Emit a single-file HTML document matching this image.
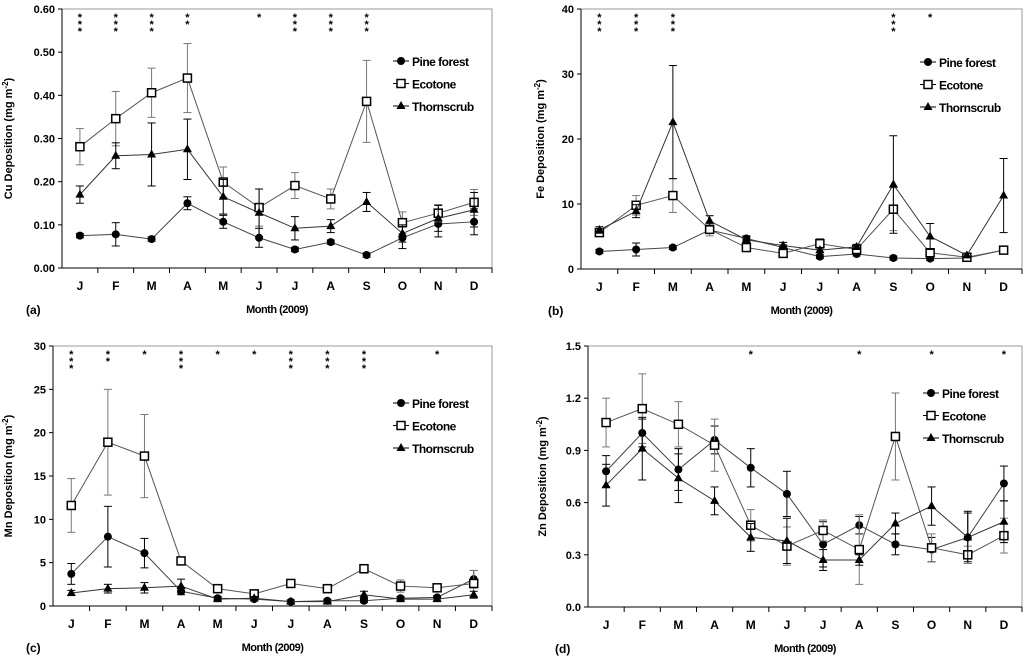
<!DOCTYPE html>
<html><head><meta charset="utf-8"><style>
body{margin:0;background:#fff;width:1027px;height:662px;overflow:hidden}
svg{display:block;font-family:"Liberation Sans",Arial,sans-serif;font-weight:bold}
</style></head><body>
<svg id="c" width="1027" height="662"></svg>
<script>
const months=["J","F","M","A","M","J","J","A","S","O","N","D"];
const cuPine=[.075,.078,.067,.150,.107,.070,.043,.060,.030,.070,.102,.107];
const cuPineErr=[.005,.027,.005,.015,.015,.022,.005,.005,.005,.025,.03,.03];
const cuEco=[.281,.346,.406,.440,.199,.140,.191,.160,.386,.105,.127,.152];
const cuEcoErr=[.042,.063,.057,.08,.035,.043,.03,.023,.095,.025,.02,.03];
const cuThorn=[.170,.260,.263,.275,.165,.128,.092,.097,.153,.080,.115,.135];
const cuThornErr=[.02,.03,.073,.07,.04,.055,.027,.015,.022,.02,.03,.04];
const cuStars=[3,3,3,2,0,1,3,3,3,0,0,0];
const feePine=[2.7,3.0,3.3,6.0,4.7,3.3,1.9,2.3,1.7,1.6,1.7,2.9];
const fePineErr=[.3,1,.3,.5,.4,.4,.3,.3,.3,.3,.3,.3];
const feEco=[5.6,9.8,11.3,6.1,3.3,2.4,3.9,3.0,9.2,2.5,1.8,2.9];
const feEcoErr=[.5,1.5,2.6,1,.4,.4,.8,.5,3.3,.6,.3,.3];
const feThorn=[6.0,8.9,22.6,7.4,4.5,3.6,2.9,3.4,13.0,5.0,2.1,11.3];
const feThornErr=[.5,1,8.7,.8,.5,.5,.4,.4,7.5,2,.3,5.7];
const feStars=[3,3,3,0,0,0,0,0,3,1,0,0];
const mnPine=[3.7,8.0,6.1,1.7,0.9,0.8,0.5,0.6,0.6,0.9,1.0,3.1];
const mnPineErr=[1.2,3.5,1.7,.4,.2,.2,.2,.2,.2,.2,.2,1];
const mnEco=[11.6,18.9,17.3,5.2,2.0,1.4,2.6,2.0,4.3,2.3,2.1,2.6];
const mnEcoErr=[3.1,6.1,4.8,.4,.3,.3,.4,.3,.5,.7,.4,1.5];
const mnThorn=[1.5,2.0,2.1,2.3,0.8,0.9,0.5,0.5,1.3,0.8,0.8,1.3];
const mnThornErr=[.3,.5,.6,.8,.2,.2,.2,.2,.4,.2,.2,.4];
const mnStars=[3,2,1,3,1,1,3,3,3,0,1,0];
const znPine=[.78,1.00,.79,.96,.80,.65,.36,.47,.36,.33,.40,.71];
const znPineErr=[.09,.08,.12,.08,.11,.13,.13,.05,.06,.07,.15,.1];
const znEco=[1.06,1.14,1.05,.93,.47,.35,.44,.33,.98,.34,.30,.41];
const znEcoErr=[.14,.2,.13,.15,.09,.11,.06,.2,.25,.08,.05,.1];
const znThorn=[.70,.91,.74,.61,.40,.38,.27,.27,.48,.58,.40,.49];
const znThornErr=[.12,.18,.14,.08,.08,.13,.06,.03,.06,.11,.14,.12];
const znStars=[0,0,0,0,1,0,0,1,0,1,0,1];
const cuTicks=["0.00","0.10","0.20","0.30","0.40","0.50","0.60"];
const feTicks=["0","10","20","30","40"];
const mnTicks=["0","5","10","15","20","25","30"];
const znTicks=["0.0","0.3","0.6","0.9","1.2","1.5"];

const NS="http://www.w3.org/2000/svg";
const svg=document.getElementById('c');
function el(t,a,p){const e=document.createElementNS(NS,t);for(const k in a)e.setAttribute(k,a[k]);(p||svg).appendChild(e);return e;}
function marker(g,type,x,y){
 if(type==='circle')return el('circle',{cx:x,cy:y,r:4,fill:'#000'},g);
 if(type==='square')return el('rect',{x:x-4,y:y-4,width:8,height:8,fill:'#fff',stroke:'#000','stroke-width':1.5},g);
 return el('path',{d:`M${x},${y-5}L${x+4.5},${y+3}L${x-4.5},${y+3}Z`,fill:'#000'},g);
}
function panel(o){
 const g=el('g',{});
 
 
 const {x0,x1,yTop,yBot,max,ticks}=o;
 const cw=(x1-x0)/12;
 const X=i=>x0+cw*(i+0.5);
 const Y=v=>yBot-(v/max)*(yBot-yTop);
 el('rect',{x:x0,y:yTop,width:x1-x0,height:yBot-yTop,fill:'none',stroke:'#999','stroke-width':1},g);
 el('line',{x1:x0,y1:yTop,x2:x0,y2:yBot,stroke:'#000'},g);
 el('line',{x1:x0,y1:yBot,x2:x1,y2:yBot,stroke:'#000'},g);
 ticks.forEach((t,i)=>{const v=max*i/(ticks.length-1);const y=Y(v);
  el('line',{x1:x0-4,y1:y,x2:x0,y2:y,stroke:'#000'},g);
  const tx=el('text',{x:x0-7,y:y+4,'font-size':11,'text-anchor':'end'},g);tx.textContent=t;
  
  });
 months.forEach((m,i)=>{const x=x0+cw*(i+1);
  el('line',{x1:x,y1:yBot,x2:x,y2:yBot+5,stroke:'#000'},g);
  const tx=el('text',{x:X(i),y:yBot+22,'font-size':12,'text-anchor':'middle'},g);tx.textContent=m;
  
  
  const n=o.stars[i];
  for(let k=0;k<n;k++){const s=el('text',{x:X(i),y:yTop+12+k*7,'font-size':11,'text-anchor':'middle'},g);s.textContent='*';
   
   }
 });
 const xt=el('text',{x:(x0+x1)/2,y:yBot+45,'font-size':11,'text-anchor':'middle','letter-spacing':'-0.5'},g);xt.textContent='Month (2009)';
 
 
 const pl=el('text',{x:o.lblX,y:yBot+46,'font-size':12},g);pl.textContent=o.label;
 
 
 const cy=(yTop+yBot)/2;
 const yt=el('text',{x:0,y:0,'font-size':11,'text-anchor':'middle',transform:`translate(${o.ytX},${cy}) rotate(-90)`},g);
 yt.innerHTML=o.el+' Deposition (mg m<tspan dy="-4" font-size="8">-2</tspan><tspan dy="4">)</tspan>';
 
 
 o.series.forEach(s=>{
  const sg=el('g',{},g);
  
  
  s.vals.forEach((v,i)=>{const x=X(i);
   el('line',{x1:x,y1:Y(v-s.err[i]),x2:x,y2:Y(v+s.err[i]),stroke:s.ec},sg);
   el('line',{x1:x-4,y1:Y(v+s.err[i]),x2:x+4,y2:Y(v+s.err[i]),stroke:s.ec},sg);
   el('line',{x1:x-4,y1:Y(v-s.err[i]),x2:x+4,y2:Y(v-s.err[i]),stroke:s.ec},sg);});
  el('polyline',{points:s.vals.map((v,i)=>X(i)+','+Y(v)).join(' '),fill:'none',stroke:s.lc,'stroke-width':1},sg);
  s.vals.forEach((v,i)=>{const m=marker(sg,s.type,X(i),Y(v));
   
   });
 });
 const names=['Pine forest','Ecotone','Thornscrub'];
 o.series.forEach((s,k)=>{const ly=o.legY+k*22.5;
  const lg=el('g',{},g);
  
  
  el('line',{x1:o.legX,y1:ly,x2:o.legX+16,y2:ly,stroke:'#000'},lg);
  marker(lg,s.type,o.legX+8,ly);
  const t=el('text',{x:o.legX+19,y:ly+5,'font-size':12,'letter-spacing':'-0.5'},lg);t.textContent=names[k];});
}
function S(p,pe,e,ee,t,te){return[
 {key:'pine-forest',vals:p,err:pe,type:'circle',lc:'#444',ec:'#000'},
 {key:'ecotone',vals:e,err:ee,type:'square',lc:'#555',ec:'#777'},
 {key:'thornscrub',vals:t,err:te,type:'tri',lc:'#333',ec:'#000'}];}
panel({name:'panel-a-cu',x0:62,x1:492,yTop:9,yBot:268,max:.6,ticks:cuTicks,stars:cuStars,label:'(a)',lblX:26,ytX:12,el:'Cu',legX:393,legY:61,series:S(cuPine,cuPineErr,cuEco,cuEcoErr,cuThorn,cuThornErr)});
panel({name:'panel-b-fe',x0:581,x1:1022,yTop:9,yBot:269,max:40,ticks:feTicks,stars:feStars,label:'(b)',lblX:548,ytX:544,el:'Fe',legX:920,legY:62,series:S(feePine,fePineErr,feEco,feEcoErr,feThorn,feThornErr)});
panel({name:'panel-c-mn',x0:53,x1:492,yTop:346,yBot:606,max:30,ticks:mnTicks,stars:mnStars,label:'(c)',lblX:26,ytX:12,el:'Mn',legX:393,legY:403,series:S(mnPine,mnPineErr,mnEco,mnEcoErr,mnThorn,mnThornErr)});
panel({name:'panel-d-zn',x0:588,x1:1022,yTop:346,yBot:607,max:1.5,ticks:znTicks,stars:znStars,label:'(d)',lblX:555,ytX:546,el:'Zn',legX:923,legY:393,series:S(znPine,znPineErr,znEco,znEcoErr,znThorn,znThornErr)});
</script>
</body></html>
